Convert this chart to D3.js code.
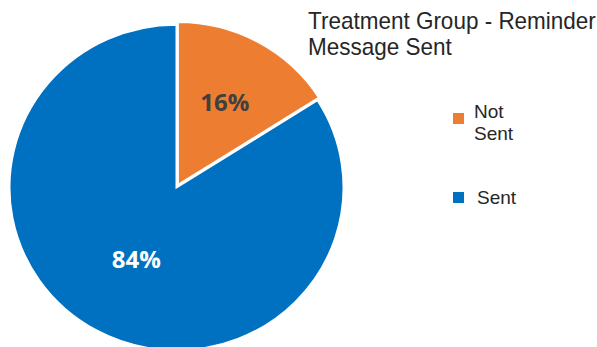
<!DOCTYPE html>
<html>
<head>
<meta charset="utf-8">
<script src="https://cdn.jsdelivr.net/npm/d3@7"></script>
<style>
  html, body { margin: 0; padding: 0; background: #ffffff; }
  svg { display: block; }
</style>
</head>
<body>
<svg id="chart" width="597" height="347"></svg>
<script>
// Reminder message status within the treatment group
const categories = ["Not Sent", "Sent"];
const shares = [16, 84];
const colors = ["#ED7D31", "#0070C0"];
const titleLines = ["Treatment Group - Reminder", "Message Sent"];
const legendLines = [["Not", "Sent"], ["Sent"]];

const W = 597, H = 347;
const svg = d3.select("#chart");

const cx = 176.5, cy = 187.5;
const R = 167;
const yScale = 0.975;
const explode = 3;

const data = categories.map((c, i) => ({ name: c, value: shares[i], color: colors[i] }));

const pie = d3.pie().sort(null).value(d => d.value).startAngle(0);
const arcs = pie(data);

const arc = d3.arc().innerRadius(0).outerRadius(R);
// label distance from the centre, as a fraction of the radius, per slice
const labelRadius = [0.6, 0.5];

const g = svg.append("g")
  .attr("transform", `translate(${cx},${cy}) scale(1,${yScale})`);

g.selectAll("path.slice")
  .data(arcs)
  .join("path")
  .attr("class", "slice")
  .attr("d", arc)
  .attr("fill", d => d.data.color)
  .attr("stroke", "#ffffff")
  .attr("stroke-width", 2)
  .attr("transform", (d, i) => {
    if (i !== 0) return null;
    const mid = (d.startAngle + d.endAngle) / 2;
    return `translate(${Math.sin(mid) * explode},${-Math.cos(mid) * explode})`;
  });

// Percentage labels
function labelPos(d, i) {
  const r = R * labelRadius[i];
  return d3.arc().innerRadius(r).outerRadius(r).centroid(d);
}
svg.selectAll("text.pct")
  .data(arcs)
  .join("text")
  .attr("class", "pct")
  .attr("x", (d, i) => cx + labelPos(d, i)[0])
  .attr("y", (d, i) => cy + labelPos(d, i)[1] * yScale)
  .attr("text-anchor", "middle")
  .attr("dominant-baseline", "central")
  .attr("font-family", "'Open Sans', sans-serif")
  .attr("font-weight", 700)
  .attr("font-size", 24)
  .attr("fill", (d, i) => i === 0 ? "#404040" : "#ffffff")
  .text(d => d.data.value + "%");

// Title (narrow set, fitted to the space right of the pie)
const titleG = svg.append("g");
const title = titleG.append("text")
  .attr("font-family", "'Liberation Sans', Arial, sans-serif")
  .attr("font-size", 24)
  .attr("fill", "#262626");
title.selectAll("tspan")
  .data(titleLines)
  .join("tspan")
  .attr("x", 0)
  .attr("y", (d, i) => 29 + i * 26)
  .text(d => d);
const firstW = title.select("tspan").node().getComputedTextLength();
titleG.attr("transform", `translate(308,0) scale(${288 / firstW},1)`);

// Legend
const legendY = [118, 204];
const legend = svg.append("g");
data.forEach((d, i) => {
  legend.append("rect")
    .attr("x", 453)
    .attr("y", i === 0 ? 113 : 192)
    .attr("width", 11)
    .attr("height", 11)
    .attr("fill", d.color);
  const t = legend.append("text")
    .attr("font-family", "'Liberation Sans', Arial, sans-serif")
    .attr("font-size", 19)
    .attr("fill", "#262626");
  t.selectAll("tspan")
    .data(legendLines[i])
    .join("tspan")
    .attr("x", i === 0 ? 474 : 477)
    .attr("y", (s, j) => legendY[i] + j * 22)
    .text(s => s);
});
</script>
</body>
</html>
